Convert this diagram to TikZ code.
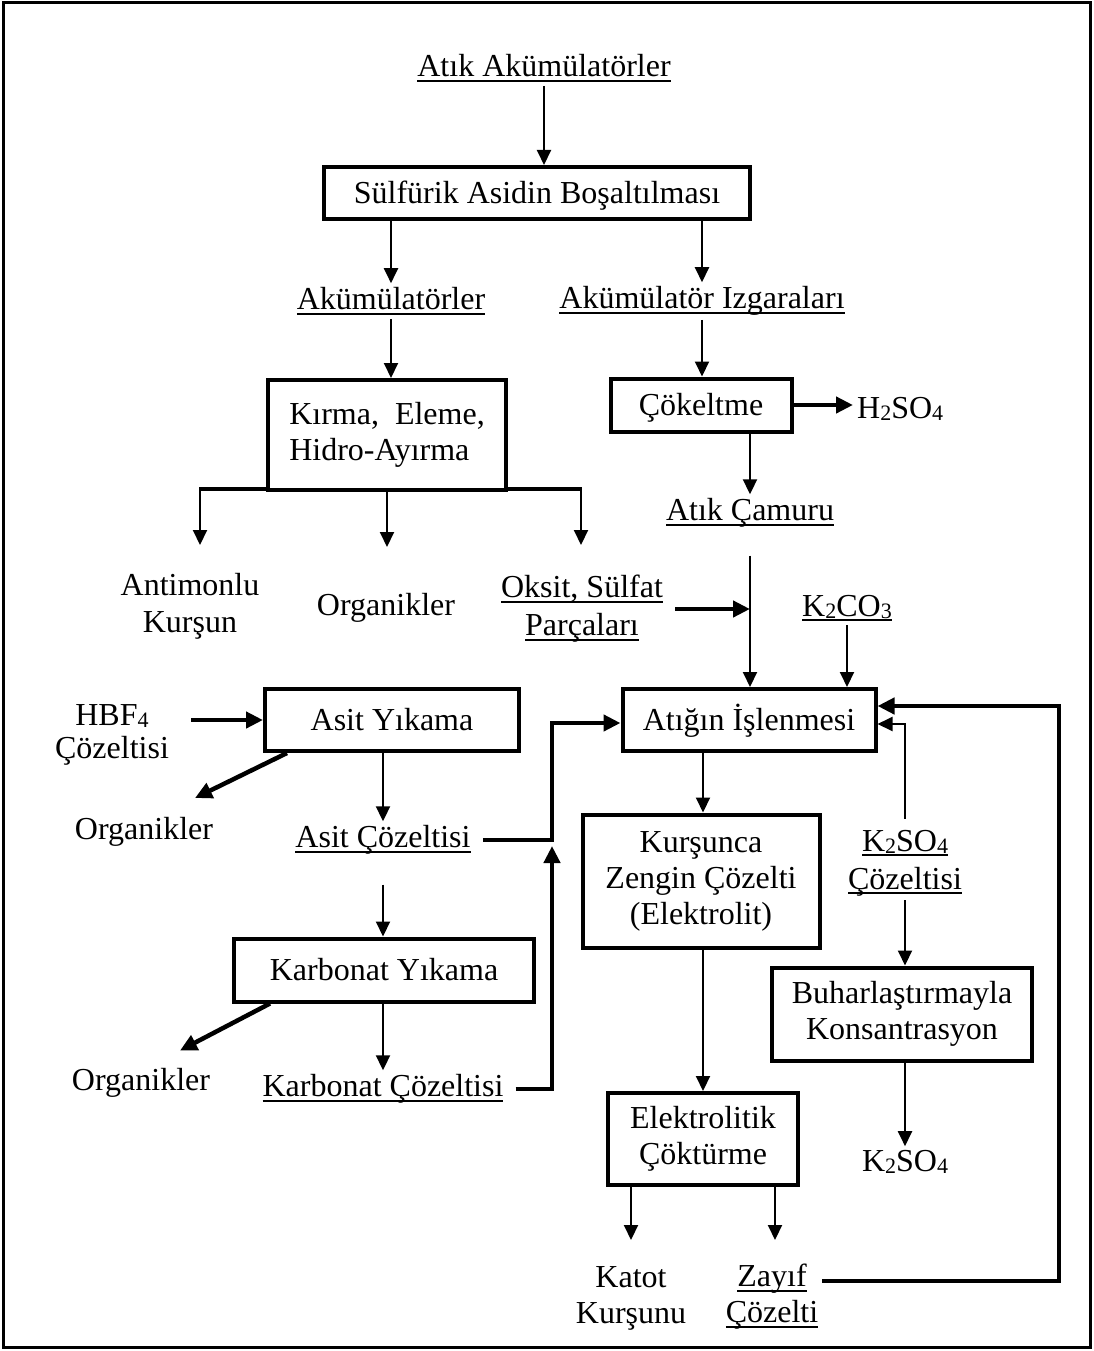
\documentclass[tikz,border=0pt]{standalone}
\usepackage{fontspec}
\setmainfont{Liberation Serif}
\usetikzlibrary{arrows.meta}
% underline drawn as a rule a little below the baseline
\newcommand\uln[1]{\leavevmode\setbox0=\hbox{#1}\rlap{\rule[-5pt]{\wd0}{1.8pt}}\box0}
% small chemical index, close to the baseline
\newcommand\chemsub[1]{\raisebox{-2pt}{\fontsize{22}{22}\selectfont #1}}
\begin{document}
\begin{tikzpicture}[x=1pt,y=-1pt,
  every node/.style={font=\fontsize{32}{36}\selectfont},
  lbl/.style={inner sep=4pt, align=center},
  proc/.style={draw, line width=4pt, inner sep=0pt, align=center},
  oneline/.style={text height=24pt, text depth=3pt},
  arr/.style={line width=2pt, -{Triangle[length=15pt,width=14pt]}},
  warr/.style={line width=4.5pt, -{Triangle[length=17pt,width=16pt]}},
  wline/.style={line width=4.5pt},
]
\useasboundingbox (0,0) rectangle (1094,1351);
\draw[line width=3pt] (3,3) rectangle (1090,1347);

% process boxes and labels
\node[lbl] (atik) at (544,68) {\uln{Atık Akümülatörler}};
\node[proc, oneline, minimum width=426, minimum height=52] (sulf) at (537,193) {Sülfürik Asidin Boşaltılması};
\node[lbl] (akum) at (391,301) {\uln{Akümülatörler}};
\node[lbl] (izg) at (702,301) {\uln{Akümülatör Izgaraları}};
\node[proc, minimum width=238, minimum height=110, align=left] (kirma) at (387,435) {Kırma,\ \ Eleme,\\Hidro-Ayırma};
\node[proc, oneline, minimum width=181, minimum height=53] (cok) at (701,405) {Çökeltme};
\node[lbl, anchor=west] (h2so4) at (853,409) {H\chemsub{2}SO\chemsub{4}};
\node[lbl] (camur) at (750,513) {\uln{Atık Çamuru}};
\node[lbl] (antim) at (190,606) {Antimonlu\\[1pt]Kurşun};
\node[lbl] (org1) at (386,608) {Organikler};
\node[lbl] (oksit) at (582,609) {\uln{Oksit, Sülfat}\\[2pt]\uln{Parçaları}};
\node[lbl] (k2co3) at (847,608) {\uln{K\chemsub{2}CO\chemsub{3}}};
\node[lbl] (hbf) at (112,735) {HBF\chemsub{4}\\[-3pt]Çözeltisi};
\node[proc, oneline, minimum width=254, minimum height=62] (asit) at (392,720) {Asit Yıkama};
\node[proc, oneline, minimum width=253, minimum height=62] (atig) at (749,720) {Atığın İşlenmesi};
\node[lbl] (org2) at (144,832) {Organikler};
\node[lbl] (asitc) at (383,840) {\uln{Asit Çözeltisi}};
\node[proc, minimum width=237, minimum height=133] (kurs) at (701,881) {Kurşunca\\Zengin Çözelti\\(Elektrolit)};
\node[lbl] (k2so4c) at (905,863) {\uln{K\chemsub{2}SO\chemsub{4}}\\[2pt]\uln{Çözeltisi}};
\node[proc, oneline, minimum width=300, minimum height=63] (karb) at (384,970) {Karbonat Yıkama};
\node[proc, minimum width=260, minimum height=93] (buhar) at (902,1014) {Buharlaştırmayla\\Konsantrasyon};
\node[lbl] (org3) at (141,1083) {Organikler};
\node[lbl] (karbc) at (383,1089) {\uln{Karbonat Çözeltisi}};
\node[proc, minimum width=190, minimum height=92] (elek) at (703,1139) {Elektrolitik\\Çöktürme};
\node[lbl] (k2so4) at (905,1162) {K\chemsub{2}SO\chemsub{4}};
\node[lbl] (katot) at (631,1298) {Katot\\Kurşunu};
\node[lbl] (zayif) at (772,1297) {\uln{Zayıf}\\\uln{Çözelti}};

% branch points
\coordinate (bl) at (200,489);
\coordinate (br) at (581,489);
\coordinate (jn) at (552,840);
\coordinate (lp) at (1059,706);

% flow
\draw[arr] (atik.south) -- (atik.south |- sulf.north);
\draw[arr] (akum.north |- sulf.south) -- (akum.north);
\draw[arr] (izg.north |- sulf.south) -- (izg.north);
\draw[arr] (akum.south) -- (akum.south |- kirma.north);
\draw[arr] (izg.south) -- (izg.south |- cok.north);
\draw[warr] (cok.east) -- (cok.east -| h2so4.west);
\draw[arr] (cok.south -| camur.north) -- (camur.north);

\draw[wline] ([xshift=-1pt]bl) -- (kirma.west |- bl);
\draw[wline] (kirma.east |- bl) -- ([xshift=1pt]br);
\draw[arr] (bl) -- ++(0,56);
\draw[arr] (kirma.south) -- ++(0,55);
\draw[arr] (br) -- ++(0,56);

\draw[arr, shorten <=24pt] (camur.south) -- (camur.south |- atig.north);
\draw[warr, shorten <=8pt] (oksit.east) -- (oksit.east -| camur.south);
\draw[arr] (k2co3.south) -- (k2co3.south |- atig.north);

\draw[warr, shorten <=18pt] (hbf.east |- asit.west) -- (asit.west);
\draw[warr] ([xshift=24pt]asit.south west) -- ++(-92,45);
\draw[arr] (asitc.north |- asit.south) -- (asitc.north);
\draw[warr, shorten <=8pt] (asitc.east |- jn) -- (jn) |- ([yshift=-3pt]atig.west);
\draw[arr, shorten <=26pt] (asitc.south) -- (asitc.south |- karb.north);
\draw[warr] ([xshift=38pt]karb.south west) -- ++(-90,47);
\draw[arr] (karbc.north |- karb.south) -- (karbc.north);
\draw[warr, shorten <=8pt] (karbc.east) -| ([yshift=-6pt]jn);

\draw[arr] (atig.south -| elek.north) -- (elek.north |- kurs.north);
\draw[arr] (elek.north |- kurs.south) -- (elek.north);
\draw[arr] (elek.south -| katot.north) -- ++(0,53);
\draw[arr] ([xshift=3pt]elek.south -| zayif.north) -- ++(0,53);
\draw[warr] ([yshift=16pt]zayif.east) -| (lp) -- (lp -| atig.east);

\draw[arr] ([yshift=7pt]k2so4c.north) |- ([yshift=-4pt]atig.east);
\draw[arr] (k2so4c.south) -- (k2so4c.south |- buhar.north);
\draw[arr] (buhar.south -| k2so4.north) -- (k2so4.north);
\end{tikzpicture}
\end{document}
